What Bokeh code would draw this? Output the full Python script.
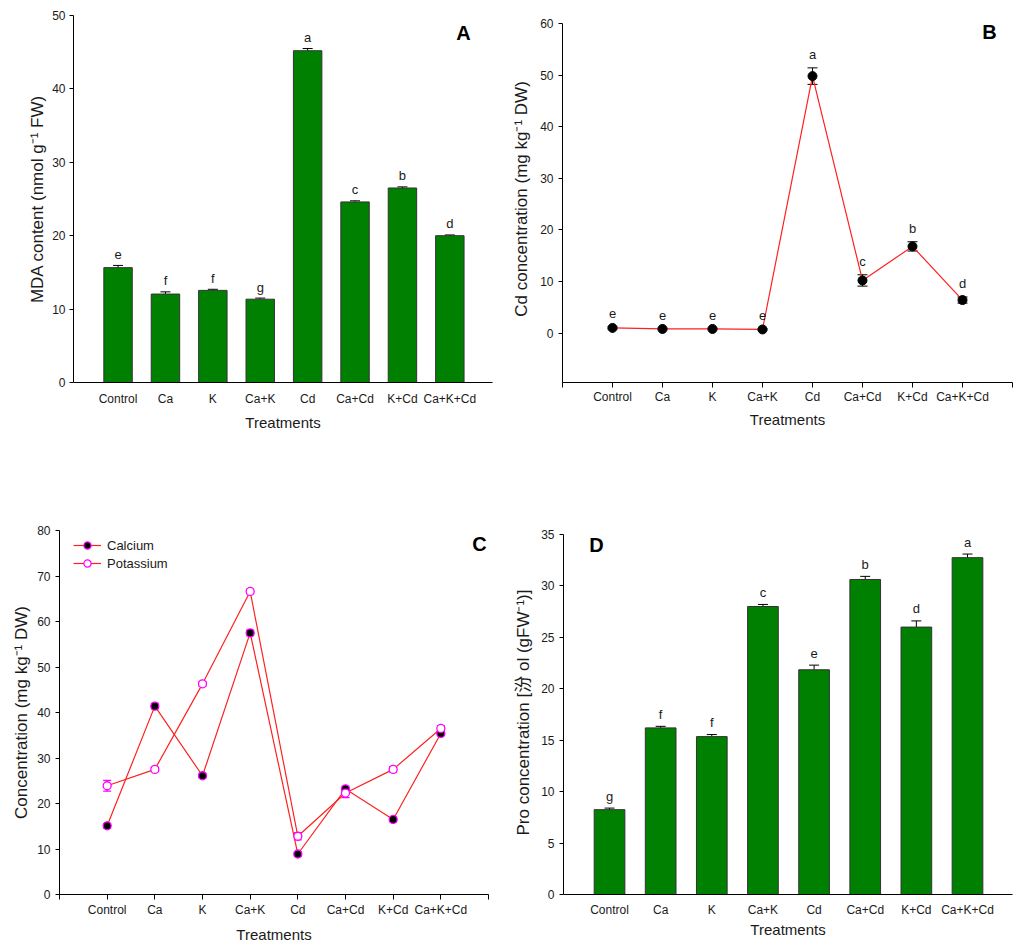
from bokeh.plotting import figure
from bokeh.models import (ColumnDataSource, Range1d, FixedTicker, Whisker, TeeHead,
                          Label, Legend, LegendItem)
from bokeh.layouts import column, row
from bokeh.embed import file_html
from bokeh.resources import INLINE
from bokeh.core.properties import value

# ---------------- data ----------------
treatments = ["Control", "Ca", "K", "Ca+K", "Cd", "Ca+Cd", "K+Cd", "Ca+K+Cd"]
positions = [1, 2, 3, 4, 5, 6, 7, 8]

mda = [15.65, 12.05, 12.55, 11.35, 45.2, 24.6, 26.5, 20.0]
mda_err = [0.3, 0.3, 0.15, 0.15, 0.3, 0.15, 0.15, 0.1]
mda_letters = ["e", "f", "f", "g", "a", "c", "b", "d"]

cd = [1.0, 0.8, 0.8, 0.7, 49.8, 10.2, 16.8, 6.4]
cd_err = [0.2, 0.15, 0.15, 0.15, 1.6, 1.1, 0.9, 0.6]
cd_letters = ["e", "e", "e", "e", "a", "c", "b", "d"]

calcium = [15.1, 41.4, 26.1, 57.5, 8.9, 23.2, 16.5, 35.4]
calcium_err = [0.5, 0.6, 0.5, 0.6, 0.5, 0.6, 0.5, 0.5]
potassium = [23.9, 27.5, 46.3, 66.6, 12.8, 22.3, 27.5, 36.5]
potassium_err = [1.2, 0.5, 0.5, 0.5, 0.8, 1.0, 0.6, 0.6]

proline = [8.25, 16.2, 15.35, 28.0, 21.85, 30.63, 26.0, 32.75]
proline_err = [0.15, 0.15, 0.2, 0.2, 0.45, 0.3, 0.6, 0.35]
proline_letters = ["g", "f", "f", "c", "e", "b", "d", "a"]

FONT = "Liberation Sans"
GREEN = "#008000"
TXT = "#1a1a1a"


def make_fig(w, h, borders, xr, yr, yticks, xticks, ylabel, xtick_out,
             xlab_stand, xaxis_lab_stand, ylab_stand, ybounds=None):
    bl, br, bt, bb = borders
    p = figure(width=w, height=h, x_range=Range1d(*xr), y_range=Range1d(*yr),
               output_backend="svg", toolbar_location=None,
               min_border_left=bl, min_border_right=br,
               min_border_top=bt, min_border_bottom=bb)
    p.outline_line_color = None
    p.grid.visible = False
    p.background_fill_color = "white"
    p.border_fill_color = "white"
    labels = {0: "", 9: ""}
    labels.update({pos: name for pos, name in zip(positions, treatments)})
    p.xaxis.ticker = FixedTicker(ticks=xticks)
    p.xaxis.major_label_overrides = labels
    p.yaxis.ticker = FixedTicker(ticks=yticks)
    if ybounds is not None:
        p.yaxis.bounds = ybounds
    for ax in (p.xaxis, p.yaxis):
        ax.minor_tick_line_color = None
        ax.axis_line_color = "black"
        ax.major_tick_line_color = "black"
        ax.major_tick_in = 0
        ax.major_label_text_font = FONT
        ax.major_label_text_font_size = "12px"
        ax.major_label_text_color = TXT
        ax.axis_label_text_font = FONT
        ax.axis_label_text_font_style = "normal"
        ax.axis_label_text_color = TXT
    p.xaxis.major_tick_out = xtick_out
    p.xaxis.major_label_standoff = xlab_stand
    p.xaxis.axis_label = "Treatments"
    p.xaxis.axis_label_text_font_size = "15px"
    p.xaxis.axis_label_standoff = xaxis_lab_stand
    p.yaxis.major_tick_out = 4
    p.yaxis.major_label_standoff = 5
    p.yaxis.axis_label = ylabel
    p.yaxis.axis_label_text_font_size = "17px"
    p.yaxis.axis_label_standoff = ylab_stand
    return p


def panel_letter(p, txt, x, y):
    p.add_layout(Label(x=x, y=y, x_units="screen", y_units="screen", text=txt,
                       text_font=FONT, text_font_size="20px", text_font_style="bold",
                       text_align="center", text_baseline="middle", text_color="black"))


def bar_panel(p, vals, errs, letters, y_off):
    src = ColumnDataSource(dict(x=positions, top=vals,
                                up=[v + e for v, e in zip(vals, errs)], lab=letters))
    p.vbar(x="x", top="top", width=0.6, source=src, fill_color=GREEN,
           line_color="#333333", line_width=1)
    p.add_layout(Whisker(base="x", upper="up", lower="top", source=src,
                         dimension="height", line_color="black", line_width=1,
                         upper_head=TeeHead(size=10, line_color="black", line_width=1),
                         lower_head=None))
    p.text(x="x", y="up", text="lab", source=src, text_align="center",
           text_baseline="alphabetic", y_offset=y_off, text_font=value(FONT),
           text_font_size="13px", text_color=TXT)


# ---------------- Panel A ----------------
pA = make_fig(508, 478, (73, 16, 15, 96), (0.06, 8.9), (0, 50),
              [0, 10, 20, 30, 40, 50], positions,
              "MDA content (nmol g\u207b\u00b9 FW)", 0, 9, 5, 2)
pA.yaxis.major_label_standoff = 4
bar_panel(pA, mda, mda_err, mda_letters, -11)
panel_letter(pA, "A", 390, 350)

# ---------------- Panel B ----------------
pB = make_fig(508, 478, (54, 4, 15, 96), (0, 9), (-9.58, 61.55),
              [0, 10, 20, 30, 40, 50, 60], list(range(10)),
              "Cd concentration (mg kg\u207b\u00b9 DW)", 5, 2, 4, 6,
              ybounds=(-9.58, 60))
srcB = ColumnDataSource(dict(x=positions, y=cd,
                             lo=[v - e for v, e in zip(cd, cd_err)],
                             up=[v + e for v, e in zip(cd, cd_err)], lab=cd_letters))
pB.line(x="x", y="y", source=srcB, line_color="#ff2020", line_width=1.2)
pB.add_layout(Whisker(base="x", upper="up", lower="lo", source=srcB, dimension="height",
                      line_color="black", line_width=1,
                      upper_head=TeeHead(size=10, line_color="black", line_width=1),
                      lower_head=TeeHead(size=10, line_color="black", line_width=1)))
pB.scatter(x="x", y="y", source=srcB, size=9, fill_color="black", line_color="black")
pB.text(x="x", y="up", text="lab", source=srcB, text_align="center",
        text_baseline="alphabetic", y_offset=-13, text_font=value(FONT),
        text_font_size="13px", text_color=TXT)
panel_letter(pB, "B", 427, 351)

# ---------------- Panel C ----------------
pC = make_fig(508, 472, (59, 20, 52, 56), (0, 9), (0, 80),
              [0, 10, 20, 30, 40, 50, 60, 70, 80], list(range(10)),
              "Concentration (mg kg\u207b\u00b9 DW)", 5, 3, 6, 3)
srcCa = ColumnDataSource(dict(x=positions, y=calcium,
                              lo=[v - e for v, e in zip(calcium, calcium_err)],
                              up=[v + e for v, e in zip(calcium, calcium_err)]))
srcK = ColumnDataSource(dict(x=positions, y=potassium,
                             lo=[v - e for v, e in zip(potassium, potassium_err)],
                             up=[v + e for v, e in zip(potassium, potassium_err)]))
lnCa = pC.line(x="x", y="y", source=srcCa, line_color="#ff2020", line_width=1.2)
lnK = pC.line(x="x", y="y", source=srcK, line_color="#ff2020", line_width=1.2)
for s in (srcCa, srcK):
    pC.add_layout(Whisker(base="x", upper="up", lower="lo", source=s, dimension="height",
                          line_color="#ff00ff", line_width=1.2,
                          upper_head=TeeHead(size=8, line_color="#ff00ff", line_width=1.2),
                          lower_head=TeeHead(size=8, line_color="#ff00ff", line_width=1.2)))
scCa = pC.scatter(x="x", y="y", source=srcCa, size=8, fill_color="black",
                  line_color="#ff00ff", line_width=1.3)
scK = pC.scatter(x="x", y="y", source=srcK, size=8, fill_color="white",
                 line_color="#ff00ff", line_width=1.3)
legC = Legend(items=[LegendItem(label="Calcium", renderers=[lnCa, scCa]),
                     LegendItem(label="Potassium", renderers=[lnK, scK])],
              location=(14, 322), glyph_width=28, glyph_height=18, label_height=18,
              spacing=0, padding=5, margin=0, label_standoff=6,
              border_line_color=None, background_fill_alpha=0,
              label_text_font=FONT, label_text_font_size="13px", label_text_color=TXT)
pC.add_layout(legC)
panel_letter(pC, "C", 420, 351)

# ---------------- Panel D ----------------
pD = make_fig(508, 472, (55, 4, 52, 56), (0.1, 8.88), (0, 35.39),
              [0, 5, 10, 15, 20, 25, 30, 35], positions,
              "Pro concentration [\u6c7e ol (gFW\u207b\u00b9)]", 0, 8, 1, 5,
              ybounds=(0, 35))
pD.yaxis.axis_label_text_font = "Liberation Sans, Noto Sans CJK SC"
bar_panel(pD, proline, proline_err, proline_letters, -12)
panel_letter(pD, "D", 33, 350)

layout = column(row(pA, pB), row(pC, pD))
open("out.html", "w").write(file_html(layout, INLINE))
